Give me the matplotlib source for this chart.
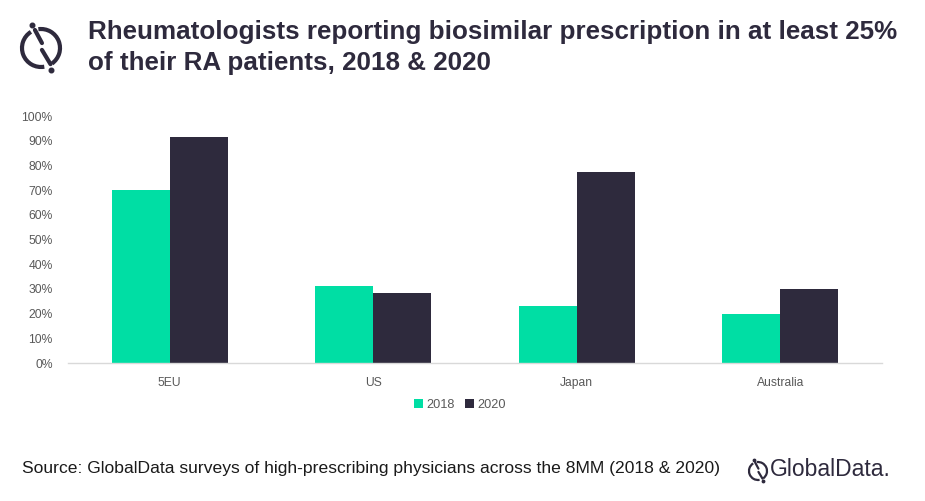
import matplotlib
matplotlib.use("Agg")
import matplotlib.pyplot as plt
from matplotlib.patches import Arc
from matplotlib.ticker import PercentFormatter

categories = ["5EU", "US", "Japan", "Australia"]
vals_2018 = [70, 31, 23, 20]
vals_2020 = [91.5, 28.5, 77.5, 30]
series_labels = ["2018", "2020"]

GREEN = "#00DEA4"
DARK = "#2E2A3D"
GREY = "#595959"

plt.rcParams["font.family"] = ["Liberation Sans", "DejaVu Sans"]

fig = plt.figure(figsize=(9.25, 5.01), dpi=100)
ax = fig.add_axes([68 / 925, 1 - 363 / 501, 814 / 925, 247 / 501])

x = list(range(len(categories)))
w = 0.285
ax.bar([i - w / 2 for i in x], vals_2018, w, color=GREEN, label=series_labels[0])
ax.bar([i + w / 2 for i in x], vals_2020, w, color=DARK, label=series_labels[1])

ax.set_xlim(-0.5, len(categories) - 0.5)
ax.set_ylim(0, 100)
ax.set_yticks(range(0, 101, 10))
ax.yaxis.set_major_formatter(PercentFormatter(decimals=0))
ax.set_xticks(x)
ax.set_xticklabels(categories)
ax.tick_params(axis="both", length=0, labelsize=8.7, colors=GREY)
ax.tick_params(axis="y", pad=11)
ax.tick_params(axis="x", pad=10)
for s in ["top", "right", "left"]:
    ax.spines[s].set_visible(False)
ax.spines["bottom"].set_color("#D9D9D9")
ax.spines["bottom"].set_linewidth(1)

leg = fig.legend(loc="center", bbox_to_anchor=(460 / 925, 1 - 405 / 501), ncol=2,
                 frameon=False, fontsize=9.2, handlelength=0.7, handleheight=0.7,
                 handletextpad=0.3, columnspacing=0.8)
for t in leg.get_texts():
    t.set_color(GREY)

# title, two lines placed separately
fig.text(88 / 925, 1 - 32 / 501, "Rheumatologists reporting biosimilar prescription in at least 25%",
         fontsize=18.7, fontweight="bold", color=DARK, va="center", ha="left")
fig.text(88 / 925, 1 - 63 / 501, "of their RA patients, 2018 & 2020",
         fontsize=18.7, fontweight="bold", color=DARK, va="center", ha="left")

# source
fig.text(22 / 925, 1 - 468 / 501, "Source: GlobalData surveys of high-prescribing physicians across the 8MM (2018 & 2020)",
         fontsize=12.6, color="#1A1A1A", va="center", ha="left")

# GlobalData wordmark
fig.text(770 / 925, 1 - 470 / 501, "GlobalData.", fontsize=16.5, color=DARK, va="center", ha="left")


def logo(cx, cy, r, lw):
    s = 1.5
    lax = fig.add_axes([(cx - r * s) / 925, 1 - (cy + r * s) / 501, 2 * r * s / 925, 2 * r * s / 501])
    lax.set_xlim(-s, s)
    lax.set_ylim(-s, s)
    lax.axis("off")
    lax.add_patch(Arc((0, 0), 2, 2, theta1=122, theta2=280, color=DARK, lw=lw))
    lax.add_patch(Arc((0, 0), 2, 2, theta1=-55, theta2=98, color=DARK, lw=lw))
    lax.plot([-0.32, 0.05], [0.95, 0.26], color=DARK, lw=lw, solid_capstyle="round")
    lax.plot([0.05, 0.5], [-0.1, -0.85], color=DARK, lw=lw, solid_capstyle="round")
    lax.plot([-0.47, 0.53], [1.22, -1.15], "o", color=DARK, ms=lw * 1.1, ls="none")


logo(41, 48, 19, 3.0)
logo(758, 471, 9, 1.6)

fig.savefig("out.png", dpi=100, facecolor="white")
